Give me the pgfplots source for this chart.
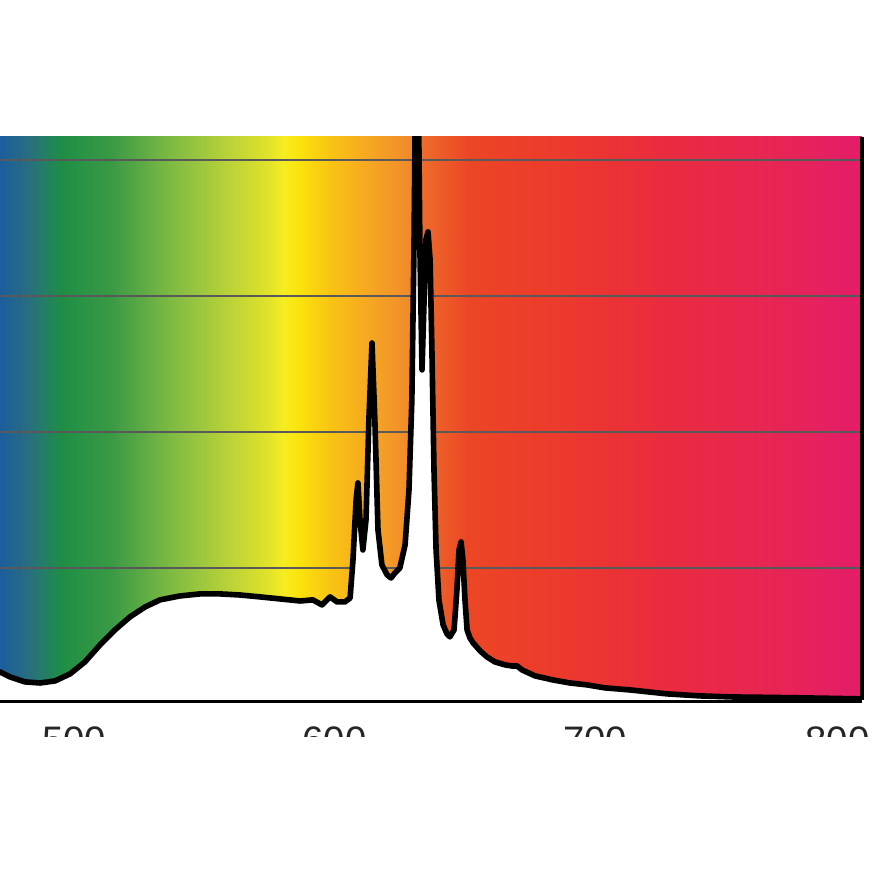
\documentclass[border=0pt]{standalone}
\usepackage{pgfplots}
\pgfplotsset{compat=1.18}
\usepackage{fontspec}
\setmainfont{Liberation Sans}

\definecolor{s00}{HTML}{1A5E9E}
\definecolor{s01}{HTML}{2A6E80}
\definecolor{s02}{HTML}{1E8E45}
\definecolor{s03}{HTML}{3A9A45}
\definecolor{s04}{HTML}{7AB843}
\definecolor{s05}{HTML}{B4D03A}
\definecolor{s06}{HTML}{E0E22A}
\definecolor{s07}{HTML}{F8EC20}
\definecolor{s08}{HTML}{FBE10A}
\definecolor{s09}{HTML}{F8C015}
\definecolor{s10}{HTML}{F5A025}
\definecolor{s11}{HTML}{F08A2A}
\definecolor{s12}{HTML}{EE6A2A}
\definecolor{s13}{HTML}{EC4625}
\definecolor{s14}{HTML}{EC3A2C}
\definecolor{s15}{HTML}{E92B40}
\definecolor{s16}{HTML}{E62555}
\definecolor{s17}{HTML}{E41C6A}

\pgfdeclarehorizontalshading{spectrum}{100bp}{%
color(0bp)=(s00); color(25bp)=(s00); color(26.62bp)=(s01); color(28.54bp)=(s02);
color(31.50bp)=(s03); color(34.69bp)=(s04); color(37.94bp)=(s05); color(40.55bp)=(s06);
color(41.47bp)=(s07); color(42.46bp)=(s08); color(44.43bp)=(s09); color(46.98bp)=(s10);
color(48.78bp)=(s11); color(49.59bp)=(s12); color(52.15bp)=(s13); color(57.37bp)=(s14);
color(63.81bp)=(s15); color(70.30bp)=(s16); color(75bp)=(s17); color(100bp)=(s17)}

\pgfplotstableread{
x y
470.0 0.245
471.6 0.235
475.4 0.199
481.2 0.162
487.0 0.154
492.7 0.169
498.5 0.221
504.2 0.309
510.0 0.434
515.7 0.544
521.5 0.640
527.3 0.713
533.0 0.765
540.7 0.794
548.4 0.809
556.0 0.809
563.7 0.801
571.4 0.787
579.1 0.772
586.8 0.757
591.7 0.765
595.2 0.728
598.3 0.787
601.0 0.750
604.0 0.750
606.0 0.779
607.1 1.059
608.3 1.500
609.0 1.625
609.8 1.353
610.9 1.132
612.1 1.353
613.2 2.088
614.4 2.654
615.5 2.088
616.7 1.279
618.2 1.022
620.2 0.949
621.7 0.926
623.2 0.963
625.1 1.000
627.1 1.169
628.6 1.574
629.7 2.235
630.5 3.338
631.3 4.900
632.0 4.900
632.8 3.338
633.6 2.456
634.4 2.971
635.1 3.412
635.9 3.471
636.7 3.265
637.4 2.603
638.2 1.721
639.0 1.132
640.1 0.765
641.7 0.581
643.2 0.515
644.3 0.493
645.9 0.544
647.0 0.838
647.8 1.132
648.6 1.191
649.3 1.059
650.1 0.765
650.9 0.544
652.0 0.485
653.2 0.449
655.9 0.390
658.5 0.346
661.6 0.309
665.5 0.287
668.1 0.279
670.1 0.279
672.0 0.250
677.0 0.206
683.9 0.176
690.4 0.154
696.9 0.140
703.8 0.118
713.4 0.103
727.6 0.074
740.3 0.059
753.4 0.051
767.2 0.048
781.4 0.044
802.5 0.037
805.0 0.036
}\spec

\begin{document}
\begin{tikzpicture}[x=0.01cm,y=0.01cm]
\begin{axis}[
  at={(0,0)}, anchor=south west,
  scale only axis, width=8.62cm, height=5.63cm,
  xmin=471.6, xmax=802.5, ymin=0.0294, ymax=4.169,
  axis x line*=bottom, axis y line*=right,
  x axis line style={line width=1.8pt, black},
  y axis line style={line width=0.9pt, black},
  axis background/.style={shading=spectrum},
  ytick={1,2,3,4}, yticklabels={}, ytick style={draw=none},
  ymajorgrids=true, grid style={black!65, line width=0.55pt},
  xtick={500,600,700,800},
  xticklabels={500,600,700,{\hspace*{-0.36cm}800}},
  xtick style={draw=none},
  xticklabel style={font=\fontsize{10.9}{13}\selectfont, text=black!85, yshift=-0.14cm},
  clip=true,
]
\addplot[fill=white, draw=none, forget plot] table[x=x,y=y] {\spec} \closedcycle;
\addplot[black, line width=1.6pt, line join=round, mark=none] table[x=x,y=y] {\spec};
\coordinate (BL) at (rel axis cs:0,0);
\coordinate (BR) at (rel axis cs:1,0);
\coordinate (TR) at (rel axis cs:1,1);
\end{axis}
\fill[white] ([shift={(-10,-37)}]BL) rectangle ([shift={(40,-220)}]BR);
\pgfresetboundingbox
\path[use as bounding box] ([shift={(0,-175)}]BL) rectangle ([shift={(13,137)}]TR);
\end{tikzpicture}
\end{document}
